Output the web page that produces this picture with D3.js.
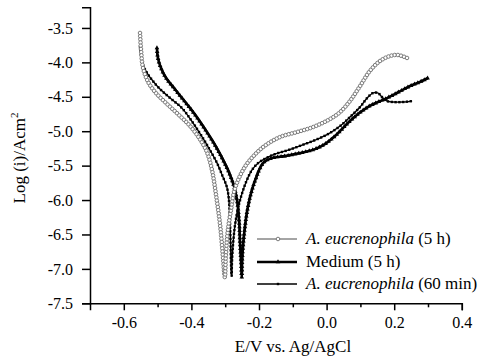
<!DOCTYPE html>
<html>
<head>
<meta charset="utf-8">
<script src="https://cdn.jsdelivr.net/npm/d3@7"></script>
<style>
  body { margin: 0; background: #fff; }
  text { font-family: "Liberation Serif", "Times New Roman", serif; fill: #000; }
</style>
</head>
<body>
<svg id="chart" width="495" height="360"></svg>
<script>
// Potentiodynamic polarization curves (Tafel plots)
const seriesNames = ["A. eucrenophila (5 h)", "Medium (5 h)", "A. eucrenophila (60 min)"];

// A. eucrenophila, 5 h exposure
const euc5hE = [-0.552, -0.549, -0.543, -0.528, -0.505, -0.475, -0.440, -0.404, -0.375, -0.354,
  -0.339, -0.327, -0.315, -0.307, -0.301,
  -0.298, -0.292, -0.283, -0.274, -0.262, -0.244, -0.227, -0.188, -0.138, -0.088, -0.040,
  0.010, 0.040, 0.069, 0.099, 0.128, 0.158, 0.188, 0.211, 0.238];
const euc5hLog = [-3.573, -3.820, -4.082, -4.285, -4.445, -4.591, -4.751, -4.925, -5.115, -5.304,
  -5.566, -5.929, -6.365, -6.802, -7.122,
  -6.802, -6.438, -6.147, -5.885, -5.711, -5.536, -5.420, -5.231, -5.085, -5.013, -4.940,
  -4.824, -4.722, -4.562, -4.344, -4.125, -3.980, -3.907, -3.893, -3.936];

// Sterile medium, 5 h exposure
const medium5hE = [-0.502, -0.499, -0.490, -0.475, -0.454, -0.428, -0.404, -0.380, -0.354, -0.330,
  -0.309, -0.289, -0.274, -0.265, -0.259, -0.256, -0.253, -0.251,
  -0.250, -0.247, -0.241, -0.233, -0.221, -0.209, -0.197, -0.185, -0.162, -0.123, -0.079,
  -0.034, -0.005, 0.025, 0.063, 0.093, 0.122, 0.152, 0.173, 0.208, 0.247, 0.276, 0.300];
const medium5hLog = [-3.791, -3.936, -4.082, -4.227, -4.358, -4.518, -4.664, -4.824, -5.013, -5.202,
  -5.391, -5.595, -5.798, -6.002, -6.293, -6.627, -6.904, -7.122,
  -6.904, -6.656, -6.365, -6.104, -5.856, -5.682, -5.536, -5.449, -5.391, -5.362, -5.318,
  -5.260, -5.187, -5.071, -4.882, -4.751, -4.649, -4.576, -4.533, -4.445, -4.344, -4.285, -4.227];

// A. eucrenophila, 60 min exposure
const euc60E = [-0.552, -0.549, -0.543, -0.531, -0.514, -0.493, -0.463, -0.428, -0.401, -0.366,
  -0.345, -0.324, -0.309, -0.295, -0.289, -0.286, -0.284, -0.283, -0.281,
  -0.280, -0.277, -0.271, -0.262, -0.250, -0.236, -0.221, -0.203, -0.179, -0.153, -0.114,
  -0.073, -0.034, 0.004, 0.040, 0.069, 0.099, 0.120, 0.137, 0.152, 0.164, 0.179, 0.196,
  0.226, 0.253];
const euc60Log = [-3.776, -3.907, -4.038, -4.155, -4.271, -4.387, -4.518, -4.664, -4.838, -5.100,
  -5.275, -5.464, -5.638, -5.813, -6.002, -6.293, -6.656, -6.904, -7.107,
  -6.904, -6.656, -6.365, -6.118, -5.900, -5.711, -5.565, -5.464, -5.391, -5.333, -5.275,
  -5.202, -5.129, -5.042, -4.925, -4.795, -4.649, -4.518, -4.445, -4.445, -4.504, -4.562,
  -4.576, -4.576, -4.562];

// Axis ticks
const xTicks = [-0.6, -0.4, -0.2, 0.0, 0.2, 0.4];
const xMinorTicks = [-0.5, -0.3, -0.1, 0.1, 0.3];
const yTicks = [-3.5, -4.0, -4.5, -5.0, -5.5, -6.0, -6.5, -7.0, -7.5];

const serif = '"Liberation Serif", "Times New Roman", serif';
const svg = d3.select("#chart");

const x = d3.scaleLinear().domain([-0.7, 0.4]).range([90, 461.8]);
const y = d3.scaleLinear().domain([-7.5, -3.2]).range([303.3, 7.3]);

// Axes
const xAxis = svg.append("g").attr("transform", `translate(0,${y(-7.5)})`)
  .call(d3.axisBottom(x).tickValues(xTicks).tickSize(7).tickPadding(6)
    .tickFormat(d => d.toFixed(1)));
const xMinor = svg.append("g").attr("transform", `translate(0,${y(-7.5)})`)
  .call(d3.axisBottom(x).tickValues(xMinorTicks).tickSize(4).tickFormat(""));
xMinor.select(".domain").remove();

const yAxis = svg.append("g").attr("transform", `translate(${x(-0.7)},0)`)
  .call(d3.axisLeft(y).tickValues(yTicks).tickSize(8).tickPadding(9)
    .tickFormat(d => d.toFixed(1)));

[xAxis, xMinor, yAxis].forEach(g => {
  g.attr("font-family", serif).attr("font-size", 16);
  g.selectAll("path, line").attr("stroke", "#000").attr("stroke-width", 1.5);
  g.selectAll("text").attr("font-size", 16).attr("fill", "#000")
    .attr("font-family", serif);
});

// Axis titles
svg.append("text")
  .attr("x", 293).attr("y", 352)
  .attr("text-anchor", "middle").attr("font-size", 17)
  .text("E/V vs. Ag/AgCl");

const yTitle = svg.append("text")
  .attr("transform", "translate(25,158) rotate(-90)")
  .attr("text-anchor", "middle").attr("font-size", 17);
yTitle.append("tspan").text("Log (i)/Acm");
yTitle.append("tspan").attr("font-size", 11).attr("dy", -7).text("2");

// Curves
const line = d3.line()
  .x(d => x(d[0]))
  .y(d => y(d[1]))
  .curve(d3.curveCatmullRom.alpha(0.5));

const series = [
  { E: euc5hE, L: euc5hLog, stroke: "#4a4a4a", width: 1, marker: "circle", step: 3.2 },
  { E: medium5hE, L: medium5hLog, stroke: "#000", width: 2.6, marker: "triangle", step: 3.6 },
  { E: euc60E, L: euc60Log, stroke: "#000", width: 1.3, marker: "square", step: 3.8 }
];

function drawMarker(g, type, cx, cy) {
  if (type === "circle") {
    g.append("circle").attr("cx", cx).attr("cy", cy).attr("r", 1.8)
      .attr("fill", "#fff").attr("stroke", "#7a7a7a").attr("stroke-width", 1);
  } else if (type === "triangle") {
    g.append("path")
      .attr("d", d3.symbol(d3.symbolTriangle, 9)())
      .attr("transform", `translate(${cx},${cy})`).attr("fill", "#000");
  } else {
    g.append("rect").attr("x", cx - 1.2).attr("y", cy - 1.2)
      .attr("width", 2.4).attr("height", 2.4).attr("fill", "#000");
  }
}

const plot = svg.append("g");
[series[1], series[2], series[0]].forEach(s => {
  const pts = s.E.map((e, i) => [e, s.L[i]]);
  const g = plot.append("g");
  const p = g.append("path")
    .attr("d", line(pts))
    .attr("fill", "none")
    .attr("stroke", s.stroke)
    .attr("stroke-width", s.width)
    .attr("stroke-linejoin", "round");
  const node = p.node();
  const len = node.getTotalLength();
  for (let l = 0; l <= len; l += s.step) {
    const pt = node.getPointAtLength(l);
    drawMarker(g, s.marker, pt.x, pt.y);
  }
});

// Legend
const legendRows = [239, 262, 284];
const legend = svg.append("g");
series.forEach((s, i) => {
  const ly = legendRows[i];
  legend.append("line")
    .attr("x1", 257).attr("x2", 297).attr("y1", ly).attr("y2", ly)
    .attr("stroke", s.stroke).attr("stroke-width", s.width);
  drawMarker(legend, s.marker, 278, ly);
  const t = legend.append("text").attr("x", 306).attr("y", ly + 5).attr("font-size", 17);
  const name = seriesNames[i];
  if (name.startsWith("A. eucrenophila")) {
    t.append("tspan").attr("font-style", "italic").text("A. eucrenophila");
    t.append("tspan").text(name.slice("A. eucrenophila".length));
  } else {
    t.text(name);
  }
});
</script>
</body>
</html>
